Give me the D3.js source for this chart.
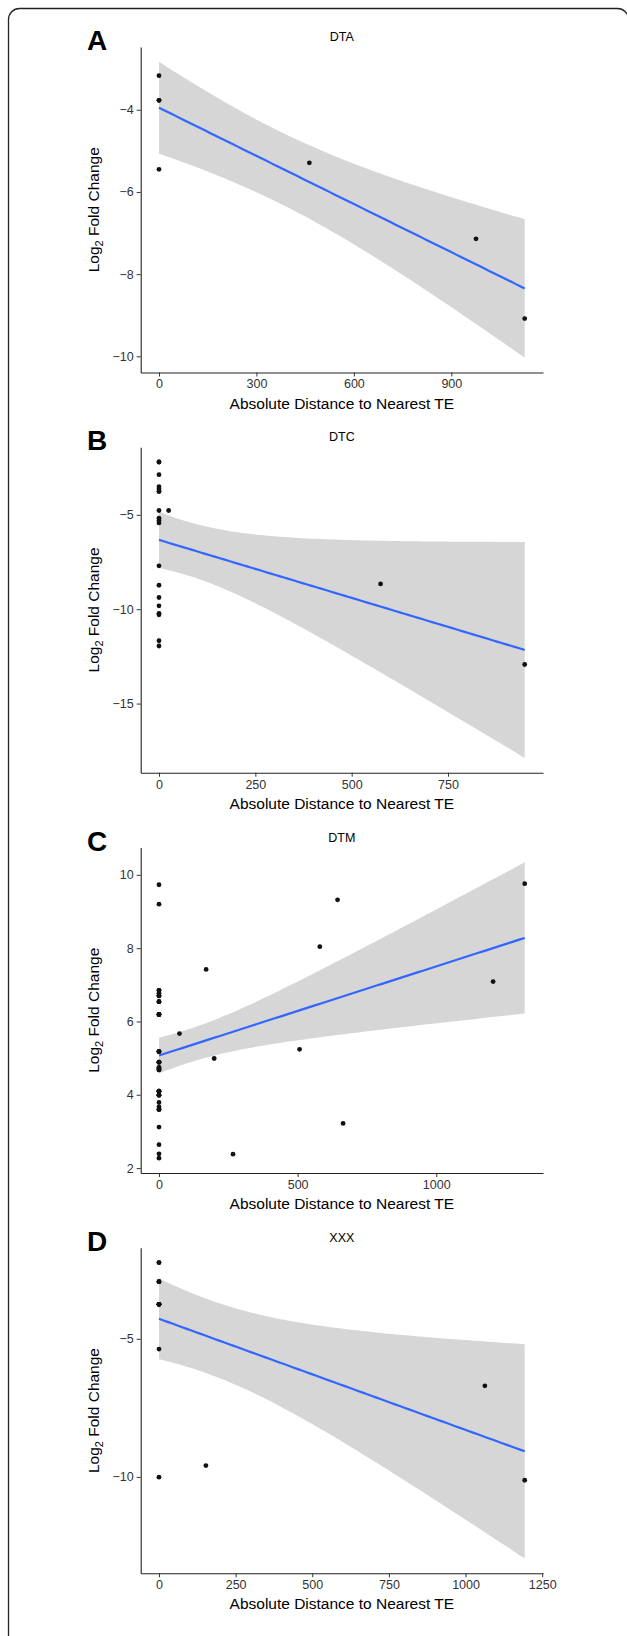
<!DOCTYPE html>
<html>
<head>
<meta charset="utf-8">
<script src="https://cdn.jsdelivr.net/npm/d3@7"></script>
<style>
  body { margin: 0; background: #fff; }
  svg { display: block; font-family: "Liberation Sans", Arial, Helvetica, sans-serif; }
  .tick text { fill: #333; font-size: 12.5px; }
  .tick line { stroke: #333; }
</style>
</head>
<body>
<div id="viz"></div>
<script>
// panel letters and titles
var panelLetters = ["A", "B", "C", "D"];
var panelTitles = ["DTA", "DTC", "DTM", "XXX"];

// DTA (genes at distance 0 can repeat, one row per overlapping TE)
var dtaX = [0, 0, 0, 0, 463, 976, 1126];
var dtaY = [-3.17, -3.77, -3.77, -5.45, -5.29, -7.14, -9.08];

// DTC
var dtcX = [0, 0, 0, 0, 0, 0, 0, 0, 0, 0, 0, 0, 0, 0, 0, 0, 0, 0, 0, 25, 575, 949];
var dtcY = [-2.20, -2.20, -2.87, -3.51, -3.63, -3.76, -3.76, -4.77, -5.18, -5.30, -5.43,
            -7.70, -8.73, -9.38, -9.82, -10.22, -10.30, -11.67, -11.95, -4.77, -8.66, -12.93];

// DTM
var dtmX = [0, 0, 0, 0, 0, 0, 0, 0, 0, 0, 0, 0, 0, 0, 0, 0, 0, 0, 0, 0,
            0, 0, 0, 0, 0, 0, 0, 0, 0, 0, 0, 0, 0, 0, 0, 0, 0, 0, 0, 0, 0, 0, 0, 0, 0,
            1319, 644, 580, 170, 1205, 74, 507, 199, 664, 267];
var dtmY = [9.73, 9.20, 6.85, 6.77, 6.70, 6.54, 6.19, 5.18, 4.89, 4.74, 4.68, 4.10, 3.99, 3.79, 3.67, 3.60, 3.12, 2.64, 2.39, 2.27,
            5.18, 5.18, 5.18, 4.89, 4.89, 4.89, 4.74, 4.74, 4.68, 4.68, 4.10, 4.10, 4.10, 3.99, 3.99, 3.60, 3.60,
            6.19, 6.19, 6.19, 6.54, 6.54, 6.70, 6.70, 6.85,
            9.76, 9.32, 8.04, 7.42, 7.09, 5.67, 5.24, 4.99, 3.22, 2.38];

// XXX
var xxxX = [0, 0, 0, 0, 0, 0, 0, 0, 0, 0, 0, 0, 153, 1063, 1193];
var xxxY = [-2.24, -2.24, -2.93, -2.93, -2.93, -3.75, -3.75, -3.75, -3.75, -3.75, -5.37, -10.01, -9.59, -6.70, -10.12];

// tick labels
var xTicks = [[0, 300, 600, 900], [0, 250, 500, 750], [0, 500, 1000], [0, 250, 500, 750, 1000, 1250]];
var yTicks = [[-10, -8, -6, -4], [-15, -10, -5], [2, 4, 6, 8, 10], [-10, -5]];

var xsAll = [dtaX, dtcX, dtmX, xxxX];
var ysAll = [dtaY, dtcY, dtmY, xxxY];

var width = 627, height = 1636;
var svg = d3.select("#viz").append("svg")
  .attr("width", width)
  .attr("height", height);

// figure frame, only top and left edges fall inside the image
svg.append("rect")
  .attr("x", 8.5).attr("y", 8.5)
  .attr("width", 620).attr("height", 1700)
  .attr("rx", 11).attr("ry", 11)
  .attr("fill", "none")
  .attr("stroke", "#222")
  .attr("stroke-width", 1.3);

var plotLeft = 140.7, plotW = 402.3, plotH = 325.5;
var plotTops = [47, 447.2, 847.5, 1247.8];

// t quantile (0.975) by Cornish-Fisher expansion
function tq(df) {
  var z = 1.959964;
  var g1 = (Math.pow(z, 3) + z) / 4;
  var g2 = (5 * Math.pow(z, 5) + 16 * Math.pow(z, 3) + 3 * z) / 96;
  var g3 = (3 * Math.pow(z, 7) + 19 * Math.pow(z, 5) + 17 * Math.pow(z, 3) - 15 * z) / 384;
  var g4 = (79 * Math.pow(z, 9) + 776 * Math.pow(z, 7) + 1482 * Math.pow(z, 5) - 1920 * Math.pow(z, 3) - 945 * z) / 92160;
  return z + g1 / df + g2 / (df * df) + g3 / Math.pow(df, 3) + g4 / Math.pow(df, 4);
}

// linear fit + 95% band, like geom_smooth(method = "lm")
function lmBand(xs, ys) {
  var n = xs.length;
  var mx = d3.mean(xs), my = d3.mean(ys);
  var sxx = 0, sxy = 0;
  for (var i = 0; i < n; i++) {
    sxx += (xs[i] - mx) * (xs[i] - mx);
    sxy += (xs[i] - mx) * (ys[i] - my);
  }
  var b = sxy / sxx, a = my - b * mx;
  var sse = 0;
  for (var j = 0; j < n; j++) {
    var r = ys[j] - (a + b * xs[j]);
    sse += r * r;
  }
  var s = Math.sqrt(sse / (n - 2));
  var t = tq(n - 2);
  var x0 = d3.min(xs), x1 = d3.max(xs);
  var out = [];
  for (var k = 0; k < 80; k++) {
    var xv = x0 + (x1 - x0) * k / 79;
    var f = a + b * xv;
    var se = s * Math.sqrt(1 / n + (xv - mx) * (xv - mx) / sxx);
    out.push({x: xv, fit: f, lo: f - t * se, hi: f + t * se});
  }
  return out;
}

var fmt = d3.format("d");

function drawPanel(p) {
  var xs = xsAll[p], ys = ysAll[p];
  var band = lmBand(xs, ys);
  var pTop = plotTops[p];

  var xr = d3.extent(xs);
  var xpad = (xr[1] - xr[0]) * 0.05;
  var x = d3.scaleLinear()
    .domain([xr[0] - xpad, xr[1] + xpad])
    .range([plotLeft, plotLeft + plotW]);

  var ylo = Math.min(d3.min(ys), d3.min(band, function(d) { return d.lo; }));
  var yhi = Math.max(d3.max(ys), d3.max(band, function(d) { return d.hi; }));
  var ypad = (yhi - ylo) * 0.05;
  var y = d3.scaleLinear()
    .domain([ylo - ypad, yhi + ypad])
    .range([pTop + plotH, pTop]);

  var g = svg.append("g");

  // ribbon
  g.append("path")
    .datum(band)
    .attr("fill", "#999999")
    .attr("fill-opacity", 0.4)
    .attr("d", d3.area()
      .x(function(d) { return x(d.x); })
      .y0(function(d) { return y(d.lo); })
      .y1(function(d) { return y(d.hi); }));

  // points
  g.selectAll(".pt")
    .data(d3.range(xs.length))
    .enter()
    .append("circle")
    .attr("cx", function(i) { return x(xs[i]); })
    .attr("cy", function(i) { return y(ys[i]); })
    .attr("r", 2.4)
    .attr("fill", "#111");

  // fit line
  g.append("path")
    .datum(band)
    .attr("fill", "none")
    .attr("stroke", "#3366FF")
    .attr("stroke-width", 2.2)
    .attr("d", d3.line()
      .x(function(d) { return x(d.x); })
      .y(function(d) { return y(d.fit); }));

  // axes
  var ax = g.append("g")
    .attr("transform", "translate(0," + (pTop + plotH) + ")")
    .call(d3.axisBottom(x).tickValues(xTicks[p]).tickSize(4).tickSizeOuter(0).tickPadding(3).tickFormat(fmt));
  var ay = g.append("g")
    .attr("transform", "translate(" + plotLeft + ",0)")
    .call(d3.axisLeft(y).tickValues(yTicks[p]).tickSize(4).tickSizeOuter(0).tickPadding(3).tickFormat(fmt));
  ax.select(".domain").attr("stroke", "#222").attr("stroke-width", 1.1);
  ay.select(".domain").attr("stroke", "#222").attr("stroke-width", 1.1);
  ax.attr("font-family", null).attr("font-size", null);
  ay.attr("font-family", null).attr("font-size", null);

  // titles
  g.append("text")
    .attr("x", plotLeft + plotW / 2)
    .attr("y", pTop - 6)
    .attr("text-anchor", "middle")
    .attr("font-size", 12.5)
    .attr("fill", "#000")
    .text(panelTitles[p]);

  g.append("text")
    .attr("x", 87)
    .attr("y", pTop + 3)
    .attr("font-size", 28)
    .attr("font-weight", "bold")
    .attr("fill", "#000")
    .text(panelLetters[p]);

  g.append("text")
    .attr("x", plotLeft + plotW / 2)
    .attr("y", pTop + plotH + 36)
    .attr("text-anchor", "middle")
    .attr("font-size", 15.5)
    .attr("fill", "#000")
    .text("Absolute Distance to Nearest TE");

  var yl = g.append("text")
    .attr("transform", "translate(98.5," + (pTop + plotH / 2) + ") rotate(-90)")
    .attr("text-anchor", "middle")
    .attr("font-size", 15.5)
    .attr("fill", "#000");
  yl.append("tspan").text("Log");
  yl.append("tspan").attr("font-size", 11).attr("dy", 4).text("2");
  yl.append("tspan").attr("dy", -4).text(" Fold Change");
}

for (var p = 0; p < 4; p++) {
  drawPanel(p);
}
</script>
</body>
</html>
